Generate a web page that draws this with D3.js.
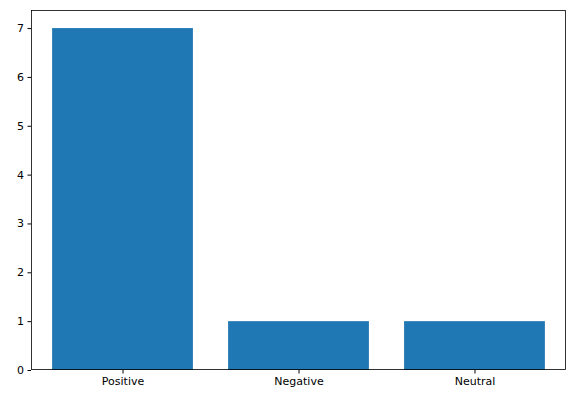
<!DOCTYPE html>
<html><head><meta charset="utf-8">
<script src="https://cdn.jsdelivr.net/npm/d3@7"></script>
<style>body{margin:0;background:#fff}text{font-family:"DejaVu Sans",sans-serif}</style>
</head><body><div id="chart"></div>
<script>
const categories = ["Positive", "Negative", "Neutral"];
const counts = [7, 1, 1];
const yTicks = [0, 1, 2, 3, 4, 5, 6, 7];

const width = 572, height = 403;
const margin = { top: 10, right: 6, bottom: 33, left: 31 };

const svg = d3.select("#chart").append("svg")
    .attr("width", width).attr("height", height);

// axe x continu comme matplotlib (barres de largeur 0.8)
const x = d3.scaleLinear().domain([-0.52, 2.52]).range([margin.left, width - margin.right]);
const y = d3.scaleLinear().domain([0, 7.37]).range([height - margin.bottom, margin.top]);

svg.append("g")
    .selectAll("rect")
    .data(counts)
    .enter().append("rect")
    .attr("x", (d, i) => x(i - 0.4))
    .attr("width", (d, i) => x(i + 0.4) - x(i - 0.4))
    .attr("y", d => y(d))
    .attr("height", d => y(0) - y(d))
    .attr("fill", "#1f77b4");

const xAxis = svg.append("g")
    .attr("transform", `translate(0,${height - margin.bottom})`)
    .call(d3.axisBottom(x).tickValues([0, 1, 2]).tickFormat(i => categories[i]).tickSize(3.5).tickPadding(3.5));
const yAxis = svg.append("g")
    .attr("transform", `translate(${margin.left},0)`)
    .call(d3.axisLeft(y).tickValues(yTicks).tickSize(3.5).tickPadding(3.5));

[xAxis, yAxis].forEach(a => {
    a.select(".domain").remove();
    a.selectAll("text").style("font-size", "11px").attr("fill", "#000");
});

// cadre
svg.append("rect")
    .attr("x", margin.left + 0.5).attr("y", margin.top + 0.5)
    .attr("width", width - margin.left - margin.right - 1)
    .attr("height", height - margin.top - margin.bottom - 1)
    .attr("fill", "none").attr("stroke", "#000").attr("stroke-width", 0.8);
</script>
</body></html>
